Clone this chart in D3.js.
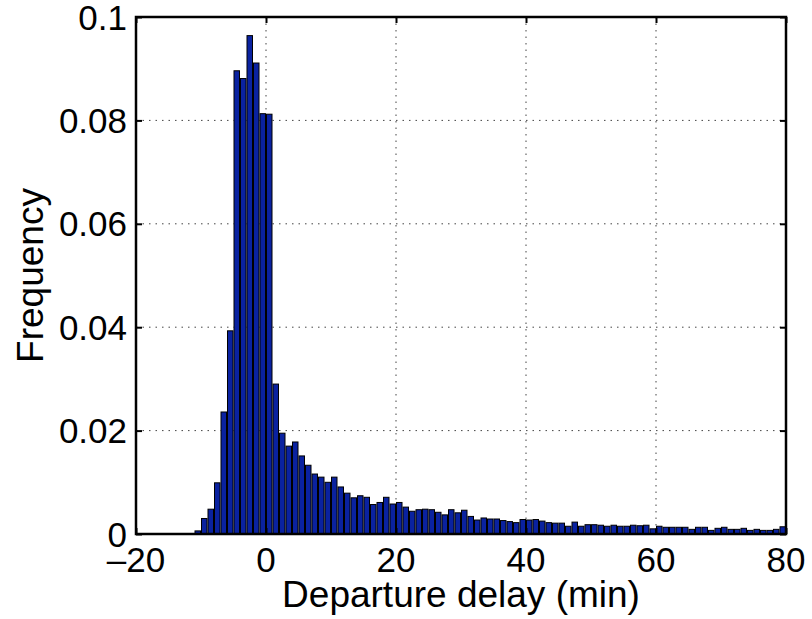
<!DOCTYPE html>
<html><head><meta charset="utf-8">
<script src="https://cdn.jsdelivr.net/npm/d3@7"></script>
<style>
html,body{margin:0;padding:0;background:#fff;}
svg{display:block;}
text{font-family:"Liberation Sans",Arial,Helvetica,sans-serif;fill:#000;}
</style></head>
<body>
<svg id="chart" width="812" height="619"></svg>
<script>
// Histogram bins: left edges (minutes) and frequencies
const binStarts = d3.range(-20, 80);
const frequencies = [
  0,0,0,0,0,0,0,0,0,        // -20 .. -12
  0.0006,                   // -11
  0.0030,0.0048,0.0099,0.0236,0.0393,0.0896,0.0881,0.0964,0.0911,0.0813, // -10 .. -1
  0.0812,0.0290,0.0195,0.0170,0.0178,0.0151,0.0133,0.0116,0.0110,0.0100, // 0 .. 9
  0.0110,0.0091,0.0079,0.0070,0.0074,0.0071,0.0057,0.0061,0.0071,0.0058, // 10 .. 19
  0.0061,0.0052,0.0044,0.0047,0.0048,0.0047,0.0042,0.0037,0.0047,0.0041, // 20 .. 29
  0.0046,0.0034,0.0027,0.0031,0.0029,0.0029,0.0026,0.0024,0.0022,0.0028, // 30 .. 39
  0.0027,0.0028,0.0025,0.0022,0.0021,0.0021,0.0015,0.0023,0.0015,0.0018, // 40 .. 49
  0.0018,0.0017,0.0015,0.0017,0.0015,0.0015,0.0017,0.0016,0.0017,0.0010, // 50 .. 59
  0.0015,0.0013,0.0013,0.0013,0.0013,0.0009,0.0013,0.0013,0.0007,0.0011, // 60 .. 69
  0.0013,0.0009,0.0009,0.0011,0.0007,0.0009,0.0007,0.0007,0.0009,0.0014  // 70 .. 79
];
const xTicks = [-20, 0, 20, 40, 60, 80];
const xTickLabels = ["\u201320", "0", "20", "40", "60", "80"];
const yTicks = [0, 0.02, 0.04, 0.06, 0.08, 0.1];
const yTickLabels = ["0", "0.02", "0.04", "0.06", "0.08", "0.1"];
const xLabel = "Departure delay (min)";
const yLabel = "Frequency";

const data = binStarts.map((b, i) => ({start: b, value: frequencies[i]}));

const L = 136, R = 786, T = 17, B = 534;
const svg = d3.select("#chart");
const x = d3.scaleLinear().domain([-20, 80]).range([L, R]);
const y = d3.scaleLinear().domain([0, 0.1]).range([B, T]);

// grid (dotted), below bars
const grid = svg.append("g");
grid.selectAll("line.gx").data(xTicks.slice(1, -1)).enter().append("line")
  .attr("x1", d => x(d)).attr("x2", d => x(d)).attr("y1", T).attr("y2", B)
  .attr("stroke", "#444").attr("stroke-width", 1).attr("stroke-dasharray", "1.5,5");
grid.selectAll("line.gy").data(yTicks.slice(1, -1)).enter().append("line")
  .attr("y1", d => y(d)).attr("y2", d => y(d)).attr("x1", L).attr("x2", R)
  .attr("stroke", "#444").attr("stroke-width", 1).attr("stroke-dasharray", "1.5,5");

// bars
svg.append("g").selectAll("rect").data(data.filter(d => d.value > 0)).enter().append("rect")
  .attr("x", d => x(d.start) + 0.5)
  .attr("width", d => x(d.start + 1) - x(d.start) - 1)
  .attr("y", d => y(d.value))
  .attr("height", d => y(0) - y(d.value))
  .attr("fill", "#0a22a0")
  .attr("stroke", "#000")
  .attr("stroke-width", 1);

// axes (box with inward ticks)
const tickLen = 6;
const xAxisB = d3.axisBottom(x).tickValues(xTicks).tickSize(-tickLen).tickFormat("");
const xAxisT = d3.axisTop(x).tickValues(xTicks).tickSize(-tickLen).tickFormat("");
const yAxisL = d3.axisLeft(y).tickValues(yTicks).tickSize(-tickLen).tickFormat("");
const yAxisR = d3.axisRight(y).tickValues(yTicks).tickSize(-tickLen).tickFormat("");
function styleAxis(g) {
  g.selectAll("line").attr("stroke", "#000").attr("stroke-width", 2);
}
svg.append("g").attr("transform", `translate(0,${B})`).call(xAxisB).call(styleAxis);
svg.append("g").attr("transform", `translate(0,${T})`).call(xAxisT).call(styleAxis);
svg.append("g").attr("transform", `translate(${L},0)`).call(yAxisL).call(styleAxis);
svg.append("g").attr("transform", `translate(${R},0)`).call(yAxisR).call(styleAxis);
svg.selectAll(".domain").remove();
svg.append("rect").attr("x", L).attr("y", T).attr("width", R - L).attr("height", B - T)
  .attr("fill", "none").attr("stroke", "#000").attr("stroke-width", 2.5);

// tick labels
const fs = 35;
svg.append("g").selectAll("text").data(xTicks).enter().append("text")
  .attr("x", d => x(d)).attr("y", 572)
  .attr("text-anchor", "middle").attr("font-size", fs)
  .text((d, i) => xTickLabels[i]);
svg.append("g").selectAll("text").data(yTicks).enter().append("text")
  .attr("x", 127).attr("y", d => y(d) + 12.5)
  .attr("text-anchor", "end").attr("font-size", fs)
  .text((d, i) => yTickLabels[i]);

// axis labels
const lfs = 37;
svg.append("text").attr("x", (L + R) / 2).attr("y", 607)
  .attr("text-anchor", "middle").attr("font-size", lfs).text(xLabel);
svg.append("text").attr("transform", `translate(43,${(T + B) / 2}) rotate(-90)`)
  .attr("text-anchor", "middle").attr("font-size", lfs).text(yLabel);
</script>
</body></html>
